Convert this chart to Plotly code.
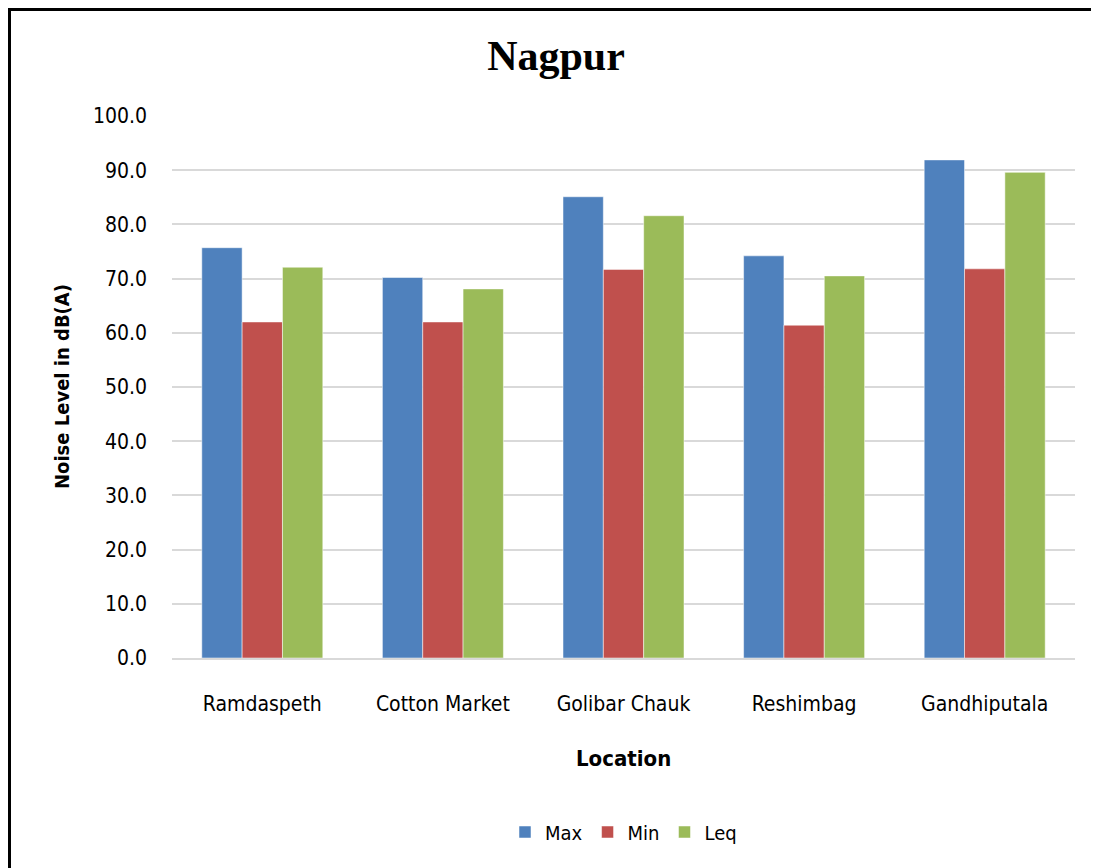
import plotly.graph_objects as go

locations = ["Ramdaspeth", "Cotton Market", "Golibar Chauk", "Reshimbag", "Gandhiputala"]
max_vals = [75.7, 70.2, 85.1, 74.2, 91.9]
min_vals = [62.0, 62.0, 71.7, 61.4, 71.8]
leq_vals = [72.1, 68.1, 81.6, 70.5, 89.6]

colors = {"Max": "#4f81bd", "Min": "#c0504d", "Leq": "#9bbb59"}
FONT = "DejaVu Sans Condensed, Liberation Sans Narrow, sans-serif"

# page has an 8px body margin, so figure pixels = page pixels - 8
L, T, PW, PH = 164, 108, 903, 542

fig = go.Figure()
for name, vals in [("Max", max_vals), ("Min", min_vals), ("Leq", leq_vals)]:
    fig.add_trace(go.Bar(x=locations, y=vals, name=name,
                         marker=dict(color=colors[name], line=dict(color="white", width=0.5))))

fig.update_layout(
    width=1099, height=868,
    margin=dict(l=L, r=1099 - L - PW, t=T, b=868 - T - PH),
    paper_bgcolor="white", plot_bgcolor="white",
    barmode="group", bargap=0.33, bargroupgap=0,
    font=dict(family=FONT, size=20, color="black"),
    title=dict(text="<b>Nagpur</b>", x=(556 - 8) / 1099, xanchor="center",
               y=1 - (55 - 8) / 868, yanchor="middle",
               font=dict(family="Liberation Serif, Times New Roman, serif", size=42, color="black")),
    legend=dict(orientation="h", x=0.5, xanchor="center", y=(658 - 832) / PH, yanchor="middle",
                font=dict(size=20), itemwidth=30),
    showlegend=True,
)
fig.update_yaxes(range=[0, 100], dtick=10, tickformat=".1f", showgrid=True,
                 gridcolor="#d9d9d9", gridwidth=1.5, zeroline=False,
                 showline=False, ticklabelstandoff=24, tickfont=dict(size=21))
fig.update_xaxes(showline=True, linecolor="#d9d9d9", linewidth=1.5,
                 ticks="", ticklabelstandoff=26, tickfont=dict(size=21))

fig.add_annotation(text="<b>Noise Level in dB(A)</b>", textangle=-90, xref="paper", yref="paper",
                   x=(62 - 172) / PW, y=(658 - 387) / PH, xanchor="center", yanchor="middle",
                   showarrow=False, font=dict(size=20))
fig.add_annotation(text="<b>Location</b>", xref="paper", yref="paper",
                   x=(623 - 172) / PW, y=(658 - 758) / PH, xanchor="center", yanchor="middle",
                   showarrow=False, font=dict(size=22))

fig.add_shape(type="rect", xref="paper", yref="paper",
              x0=(1.5 - L) / PW, x1=(1120 - L) / PW,
              y0=-(900 - T - PH) / PH, y1=(T + PH - 1.5) / PH,
              line=dict(color="black", width=3))

fig.write_html("out.html")
